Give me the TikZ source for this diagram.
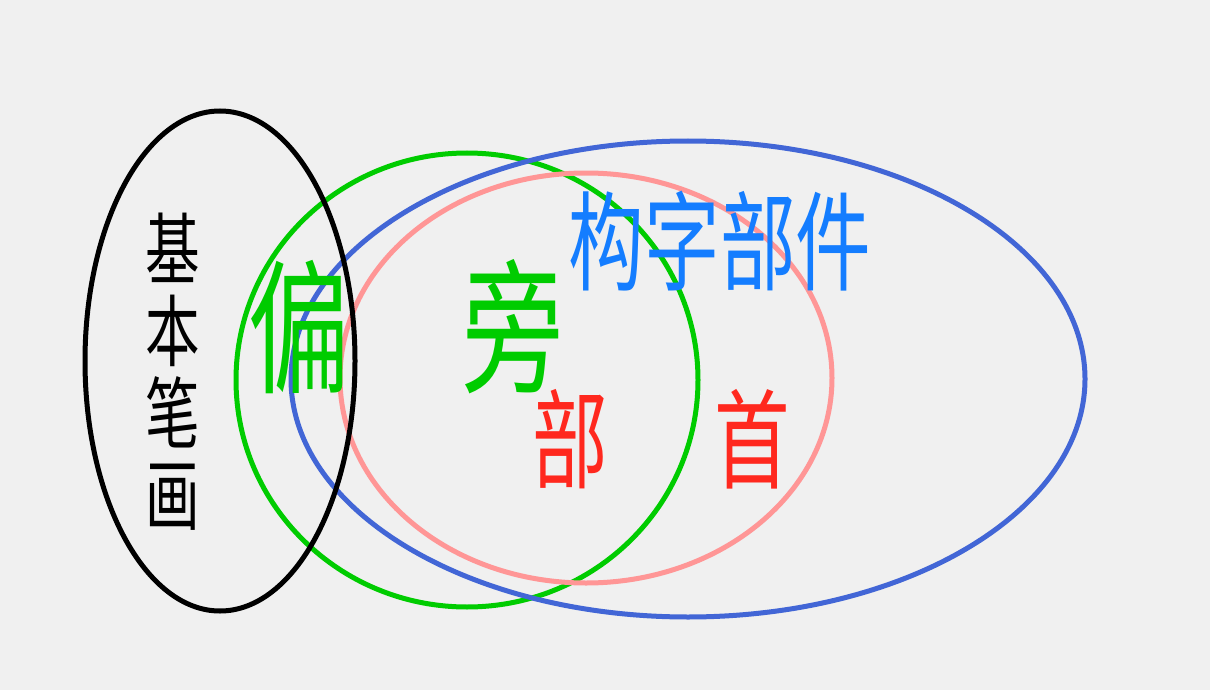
\documentclass[tikz,border=0pt]{standalone}
\usepackage{fontspec}
\newfontfamily\cjk{Noto Sans CJK SC}
\usetikzlibrary{shapes.geometric}
\definecolor{bg}{RGB}{240,240,240}
\definecolor{cgreen}{RGB}{0,204,0}
\definecolor{cblue}{RGB}{66,102,214}
\definecolor{cpink}{RGB}{255,150,150}
\definecolor{cred}{RGB}{255,40,30}
\definecolor{ctext}{RGB}{20,125,255}
\tikzset{
  ring/.style={ellipse, draw, line width=5pt, inner sep=0pt},
  hz/.style={font=\cjk, inner sep=0pt, xscale=0.7}
}
\begin{document}
\begin{tikzpicture}[x=1pt,y=-1pt]
\fill[bg] (0,0) rectangle (1210,690);
\useasboundingbox (0,0) rectangle (1210,690);
\node[ring, draw=cgreen, minimum width=462pt, minimum height=454pt] (green) at (467,380) {};
\node[ring, draw=cpink, minimum width=492pt, minimum height=410pt] (pink) at (586,378) {};
\node[ring, draw=cblue, minimum width=794pt, minimum height=476pt] (blue) at (688,379) {};
\node[ring, draw=black, minimum width=270pt, minimum height=500pt] (black) at (220,361) {};
\node[hz, text=black, font=\cjk\fontsize{78}{82}\selectfont, align=center] (jbbh) at (173,372) {基\\本\\笔\\画};
\node[hz, text=cgreen, font=\cjk\fontsize{145}{145}\selectfont] (pian) at (299,327) {偏};
\node[hz, text=cgreen, font=\cjk\fontsize{145}{145}\selectfont] (pang) at (513,327) {旁};
\node[hz, text=cred, font=\cjk\fontsize{108}{108}\selectfont] (bu) at (570,439) {部};
\node[hz, text=cred, font=\cjk\fontsize{108}{108}\selectfont] (shou) at (752,439) {首};
\node[hz, text=ctext, font=\cjk\fontsize{108}{108}\selectfont] (gzbj) at (720,241) {构字部件};
\end{tikzpicture}
\end{document}
